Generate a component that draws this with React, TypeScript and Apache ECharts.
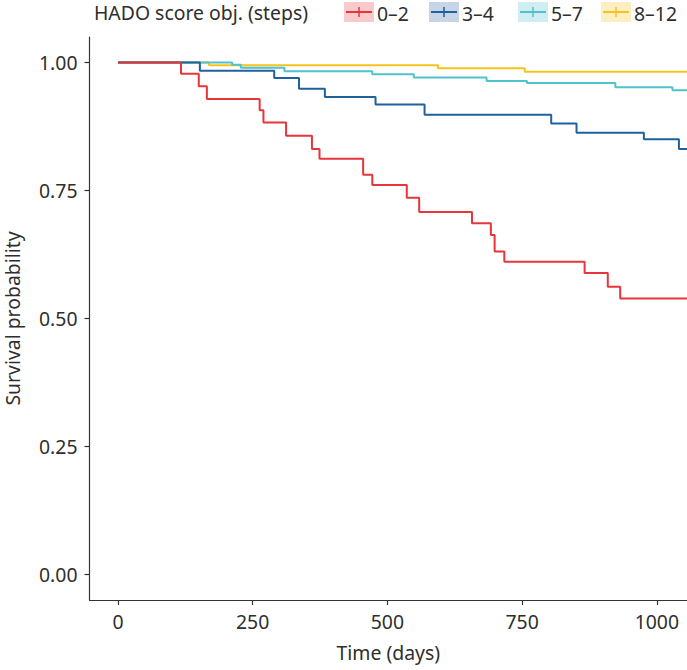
import React, { useEffect, useRef } from "react";
import * as echarts from "echarts";

const groupNames = ["0–2", "3–4", "5–7", "8–12"];
const legendTitle = "HADO score obj. (steps)";

const timesG1 = [0, 117, 150, 165, 263, 270, 312, 360, 374, 455, 472, 536, 559, 657, 692, 699, 717, 866, 909, 932, 1056];
const survG1 = [1, 0.978, 0.954, 0.929, 0.907, 0.883, 0.857, 0.831, 0.812, 0.781, 0.761, 0.736, 0.708, 0.686, 0.663, 0.631, 0.611, 0.589, 0.562, 0.539, 0.539];

const timesG2 = [0, 152, 290, 336, 384, 478, 569, 804, 851, 976, 1041, 1056];
const survG2 = [1, 0.984, 0.97, 0.949, 0.933, 0.918, 0.898, 0.881, 0.863, 0.85, 0.831, 0.831];

const timesG3 = [0, 212, 228, 309, 472, 549, 684, 759, 923, 1029, 1056];
const survG3 = [1, 0.996, 0.99, 0.983, 0.977, 0.971, 0.964, 0.96, 0.952, 0.946, 0.946];

const timesG4 = [0, 169, 594, 755, 1056];
const survG4 = [1, 0.995, 0.989, 0.982, 0.982];

const xTicks = [0, 250, 500, 750, 1000];
const yTicks = [0, 0.25, 0.5, 0.75, 1];

const colors = ["#E8343B", "#21609F", "#4EC3CC", "#F8C21C"];
const keyFills = ["#F7CBCC", "#C8D5E7", "#D0EEF1", "#FDEFC1"];

const FONT = "'Noto Sans', 'Open Sans', sans-serif";
const FS = 19.4;
const TXT = "#2e2e2e";

export default function App() {
  const ref = useRef<HTMLDivElement>(null);
  useEffect(() => {
    if (!ref.current) return;
    const chart = echarts.init(ref.current, null, { renderer: "svg" });
    const groups = [
      [timesG1, survG1],
      [timesG2, survG2],
      [timesG3, survG3],
      [timesG4, survG4],
    ];
    const series = groups.map(([t, s], i) => ({
      name: groupNames[i],
      type: "line",
      step: "end",
      showSymbol: false,
      symbol: "none",
      data: t.map((v, k) => [v, s[k]]),
      lineStyle: { color: colors[i], width: 2 },
      itemStyle: { color: colors[i] },
      z: 10 - i,
    }));

    const keyX = [344, 429, 518, 601];
    const keyW = 30;
    const keyY = 2;
    const keyH = 20;
    const legendEls: any[] = [
      {
        type: "text",
        x: 94,
        y: 12,
        style: { text: legendTitle, font: `${FS}px ${FONT}`, fill: TXT, verticalAlign: "middle", textAlign: "left" },
      },
    ];
    keyX.forEach((x, i) => {
      const cy = keyY + keyH / 2;
      legendEls.push({ type: "rect", shape: { x, y: keyY, width: keyW, height: keyH }, style: { fill: keyFills[i] } });
      legendEls.push({ type: "line", shape: { x1: x + 2, y1: cy, x2: x + keyW - 2, y2: cy }, style: { stroke: colors[i], lineWidth: 2 } });
      legendEls.push({ type: "line", shape: { x1: x + keyW / 2, y1: cy - 5, x2: x + keyW / 2, y2: cy + 5 }, style: { stroke: colors[i], lineWidth: 1.5 } });
      legendEls.push({
        type: "text",
        x: x + keyW + 3,
        y: cy + 1,
        style: { text: groupNames[i], font: `${FS}px ${FONT}`, fill: TXT, verticalAlign: "middle", textAlign: "left" },
      });
    });

    chart.setOption({
      animation: false,
      backgroundColor: "#ffffff",
      textStyle: { fontFamily: FONT },
      grid: { left: 89.5, right: 0, top: 37, bottom: 70, containLabel: false, outerBoundsMode: "none" },
      xAxis: {
        type: "value",
        min: -52.8,
        max: 1056,
        name: "Time (days)",
        nameLocation: "middle",
        nameGap: 43,
        nameTextStyle: { fontSize: FS, color: TXT, fontFamily: FONT },
        axisLine: { show: true, onZero: false, lineStyle: { color: "#333", width: 1.2 } },
        axisTick: { show: true, length: 5, inside: false, lineStyle: { color: "#333", width: 1.2 }, customValues: xTicks },
        axisLabel: {
          customValues: xTicks,
          margin: 12,
          fontSize: FS,
          color: TXT,
          fontFamily: FONT,
          formatter: (v: number) => String(Math.round(v)),
        },
        splitLine: { show: false },
      },
      yAxis: {
        type: "value",
        min: -0.05,
        max: 1.05,
        name: "Survival probability",
        nameLocation: "middle",
        nameRotate: 90,
        nameGap: 68,
        nameTextStyle: { fontSize: FS, color: TXT, fontFamily: FONT },
        axisLine: { show: true, onZero: false, lineStyle: { color: "#333", width: 1.2 } },
        axisTick: { show: true, length: 5, inside: false, lineStyle: { color: "#333", width: 1.2 }, customValues: yTicks },
        axisLabel: {
          customValues: yTicks,
          margin: 12,
          fontSize: FS,
          color: TXT,
          fontFamily: FONT,
          formatter: (v: number) => v.toFixed(2),
        },
        splitLine: { show: false },
      },
      graphic: legendEls,
      series,
    });
    return () => chart.dispose();
  }, []);
  return <div ref={ref} style={{ position: "fixed", left: 0, top: 0, width: 687, height: 670 }} />;
}
